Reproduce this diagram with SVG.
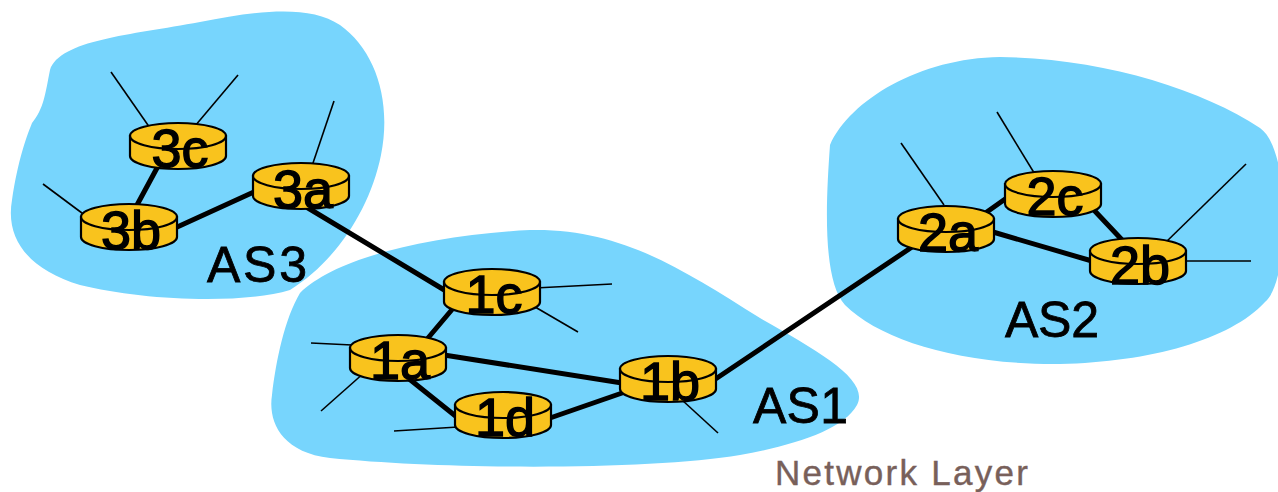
<svg xmlns="http://www.w3.org/2000/svg" width="1278" height="492" viewBox="0 0 1278 492">
<style>
.as{fill:#77d5fd;stroke:none}
.rb{fill:#f9c31d;stroke:#000;stroke-width:2.2}
.lbl{font-family:"Liberation Sans",Arial,sans-serif;font-size:54px;fill:#000;stroke:#000;stroke-width:1.4;text-anchor:middle}
.asl{font-family:"Liberation Sans",Arial,sans-serif;font-size:50px;fill:#000;stroke:#000;stroke-width:0.8}
.thick{stroke:#000;stroke-width:5;stroke-linecap:round;fill:none}
.stub{stroke:#000;stroke-width:1.6;fill:none}
</style>
<defs>
<g id="router">
<path d="M-48,0 V20 A48,13 0 0 0 48,20 V0 Z" class="rb"/>
<ellipse cx="0" cy="0" rx="48" ry="13" class="rb"/>
</g>
</defs>
<g id="as-regions">
<path id="as3-region" class="as" d="M50,70 C60,40 130,35 200,22 C260,10 310,5 340,25 C375,50 392,100 381,155 C370,210 335,262 290,290 C240,305 140,300 80,285 C30,270 5,240 12,200 C18,160 26,138 32,123 C44,108 45,95 50,70 Z"/>
<path id="as1-region" class="as" d="M300,293 C335,258 430,235 530,230 C620,228 680,268 760,318 C820,352 870,380 857,405 C843,430 795,445 740,455 C650,470 450,470 330,458 C280,452 268,420 272,395 C276,360 285,318 300,293 Z"/>
<path id="as2-region" class="as" d="M830,145 C850,100 920,58 1000,57 C1100,58 1200,88 1260,128 C1292,150 1290,282 1265,302 C1230,340 1150,362 1060,364 C960,365 880,340 845,305 C822,280 826,200 830,145 Z"/>
</g>
<g id="connectors">
<line class="stub" x1="111" y1="72" x2="150" y2="128"/>
<line class="stub" x1="238" y1="75" x2="195" y2="126"/>
<line class="stub" x1="43" y1="184" x2="90" y2="219"/>
<line class="stub" x1="334" y1="101" x2="312" y2="166"/>
<line class="stub" x1="612" y1="284" x2="535" y2="288"/>
<line class="stub" x1="578" y1="332" x2="530" y2="304"/>
<line class="stub" x1="311" y1="343" x2="352" y2="345"/>
<line class="stub" x1="321" y1="411" x2="365" y2="372"/>
<line class="stub" x1="394" y1="431" x2="458" y2="427"/>
<line class="stub" x1="718" y1="433" x2="682" y2="400"/>
<line class="stub" x1="901" y1="143" x2="944" y2="205"/>
<line class="stub" x1="997" y1="112" x2="1036" y2="176"/>
<line class="stub" x1="1246" y1="164" x2="1164" y2="244"/>
<line class="stub" x1="1251" y1="261" x2="1184" y2="261"/>
<line class="thick" x1="157" y1="168" x2="137" y2="205"/>
<line class="thick" x1="175" y1="228" x2="256" y2="191"/>
<line class="thick" x1="308" y1="208" x2="446" y2="291"/>
<line class="thick" x1="455" y1="306" x2="428" y2="338"/>
<line class="thick" x1="444" y1="355" x2="622" y2="383"/>
<line class="thick" x1="408" y1="378" x2="458" y2="418"/>
<line class="thick" x1="550" y1="418" x2="625" y2="392"/>
<line class="thick" x1="714" y1="380" x2="915" y2="245"/>
<line class="thick" x1="984" y1="214" x2="1008" y2="197"/>
<line class="thick" x1="993" y1="232" x2="1092" y2="261"/>
<line class="thick" x1="1092" y1="208" x2="1124" y2="242"/>
</g>
<g id="r3c" transform="translate(178,136)"><use href="#router"/><text class="lbl" x="2" y="31">3c</text></g>
<g id="r3b" transform="translate(129,217)"><use href="#router"/><text class="lbl" x="2" y="32">3b</text></g>
<g id="r3a" transform="translate(301,176)"><use href="#router"/><text class="lbl" x="2" y="32">3a</text></g>
<g id="r1c" transform="translate(492,282)"><use href="#router"/><text class="lbl" x="2" y="31">1c</text></g>
<g id="r1a" transform="translate(398,348)"><use href="#router"/><text class="lbl" x="2" y="31">1a</text></g>
<g id="r1d" transform="translate(503,405)"><use href="#router"/><text class="lbl" x="2" y="31">1d</text></g>
<g id="r1b" transform="translate(668,369)"><use href="#router"/><text class="lbl" x="2" y="31">1b</text></g>
<g id="r2c" transform="translate(1053,184)"><use href="#router"/><text class="lbl" x="2" y="31">2c</text></g>
<g id="r2a" transform="translate(946,219)"><use href="#router"/><text class="lbl" x="2" y="32">2a</text></g>
<g id="r2b" transform="translate(1138,251)"><use href="#router"/><text class="lbl" x="2" y="33">2b</text></g>
<g id="labels">
<text class="asl" x="207" y="282" textLength="100">AS3</text>
<text class="asl" x="1005" y="337" textLength="94">AS2</text>
<text class="asl" x="753" y="423" textLength="95">AS1</text>
<text x="775" y="485" font-family="Liberation Sans, Arial, sans-serif" font-size="35" fill="#78605a" stroke="#78605a" stroke-width="0.4" textLength="253">Network Layer</text>
</g>
</svg>
